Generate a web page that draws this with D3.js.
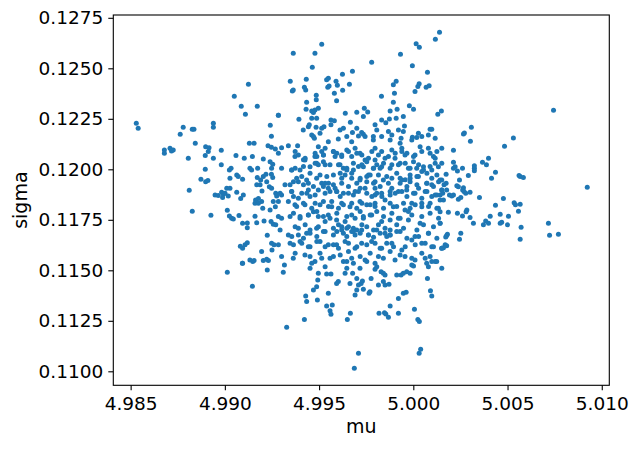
<!DOCTYPE html>
<html>
<head>
<meta charset="utf-8">
<script src="https://cdn.jsdelivr.net/npm/d3@7"></script>
<style>
  body { margin: 0; background: #fff; }
  text { font-family: "DejaVu Sans", sans-serif; }
</style>
</head>
<body>
<div id="chart"></div>
<script>
// values, grouped by the part of the plot they came from
const muTop = [4.98530,4.98540,4.98763,4.98779,4.98827,4.98836,4.98939,4.98939,4.99050,4.99087,4.99109,4.99125,4.99172,4.99241,4.99247,4.99284,
  4.99284,4.99363,4.99478,4.99514,4.99464,4.99347,4.99358,4.99363,4.99432,4.99422,4.99429,4.99434,4.99431,4.99485,4.99485,4.99496,4.99461,4.99470,4.99478,4.99487,
  4.99461,4.99393,4.99416,4.99443,4.99448,4.99484,4.99514,4.99526,4.99505,4.99461,4.99475,4.99540,4.99549,4.99546,4.99553,4.99590,4.99597,4.99581,4.99593,4.99624,
  4.99625,4.99661,4.99677,4.99639,4.99700,4.99740,4.99758,4.99735,4.99779,4.99831,4.99666,4.99629,4.99611,4.99563,4.99581,4.99563,4.99700,4.99709,4.99677,4.99726,
  4.99735,4.99744,4.99797,4.99806,4.99788,4.99832,4.99854,4.99873,4.99877,4.99894,4.99900,4.99894,4.99909,4.99914,4.99909,4.99868,4.99886,4.99921,4.99947,4.99953,
  4.99947,4.99935,4.99979,5.00001,4.99995,4.99932,5.00015,5.00032,5.00024,5.00031,5.00009,5.00068,5.00084,5.00075,5.00117,5.00139,5.00130,5.00149,5.00089,5.00098,
  5.00080,5.00027,4.99995,5.00018,5.00744,5.00308,5.00266,5.00271,5.00531];
const sigmaTop = [0.12228,0.12203,0.12174,0.12208,0.12198,0.12198,0.12228,0.12208,0.12362,0.12312,0.12273,0.12421,0.12312,0.12218,0.12164,0.12268,
  0.12268,0.12574,0.12574,0.12619,0.12505,0.12436,0.12388,0.12393,0.12446,0.12406,0.12393,0.12332,0.12297,0.12367,0.12344,0.12302,0.12289,0.12281,0.12294,0.12253,
  0.12253,0.12248,0.12195,0.12211,0.12220,0.12208,0.12203,0.12211,0.12178,0.12170,0.12154,0.12443,0.12451,0.12406,0.12413,0.12436,0.12416,0.12377,0.12339,0.12471,
  0.12391,0.12421,0.12485,0.12277,0.12282,0.12302,0.12284,0.12261,0.12530,0.12362,0.12233,0.12203,0.12195,0.12244,0.12240,0.12220,0.12203,0.12165,0.12182,0.12182,
  0.12174,0.12162,0.12220,0.12195,0.12162,0.12244,0.12231,0.12249,0.12289,0.12332,0.12377,0.12418,0.12436,0.12297,0.12253,0.12187,0.12170,0.12195,0.12261,0.12215,
  0.12187,0.12154,0.12315,0.12297,0.12513,0.12570,0.12621,0.12604,0.12410,0.12423,0.12385,0.12406,0.12414,0.12480,0.12644,0.12678,0.12273,0.12289,0.12198,0.12198,
  0.12170,0.12179,0.12159,0.12157,0.12292,0.12208,0.12175,0.12180,0.12155];

const muLeft = [4.98843,4.98679,4.98679,4.98709,4.98717,4.98726,4.98806,4.98898,4.98916,4.98912,4.98896,4.98939,4.98981,4.98981,4.99059,4.99103,4.99130,4.99155,
  4.99146,4.99229,4.99247,4.99268,4.99204,4.99240,4.99254,4.99248,4.99133,4.99142,4.99033,4.99024,4.98896,4.98873,4.98898,4.98910,4.99027,4.99063,4.99071,4.99094,
  4.99174,4.99172,4.99204,4.99218,4.99247,4.99254,4.99222,4.99190,4.99169,4.99187,4.99236,4.99248,4.99197,4.99270,4.99275,4.98811,4.98827,4.98926,4.98948,4.98965,
  4.98983,4.98992,4.99001,4.99010,4.99027,4.99018,4.98988,4.99063,4.99084,4.99098,4.99163,4.99178,4.99160,4.99195,4.99178,4.99201,4.99257,4.99268,4.99240,4.99013,
  4.99024,4.99036,4.99045,4.99075,4.99094,4.99119,4.99119,4.99160,4.99169,4.99208,4.99245,4.99257,4.99270,4.99284,4.99225,4.99082,4.99094,4.99107,4.99119,4.99248,
  4.99261,4.99250,4.99195,4.99094,4.99133,4.99148,4.99155,4.99204,4.99222,4.99231,4.99013,4.99093,4.99146,4.99225];
const sigmaLeft = [0.12129,0.12096,0.12079,0.12104,0.12091,0.12096,0.12055,0.12112,0.12107,0.12088,0.12068,0.12055,0.12094,0.12022,0.12068,0.12055,0.12129,0.12129,
  0.12064,0.12116,0.12109,0.12101,0.12051,0.12038,0.12025,0.12005,0.12005,0.11997,0.12005,0.11997,0.12000,0.11951,0.11939,0.11944,0.11956,0.11972,0.11964,0.11951,
  0.12005,0.11959,0.11964,0.11975,0.11975,0.11959,0.11939,0.11947,0.11923,0.11923,0.11914,0.11906,0.11893,0.11881,0.11868,0.11896,0.11792,0.11772,0.11873,0.11870,
  0.11886,0.11876,0.11881,0.11906,0.11906,0.11868,0.11861,0.11886,0.11856,0.11873,0.11848,0.11856,0.11832,0.11840,0.11832,0.11807,0.11840,0.11815,0.11799,0.11797,
  0.11769,0.11758,0.11754,0.11771,0.11733,0.11734,0.11711,0.11767,0.11736,0.11744,0.11741,0.11728,0.11725,0.11766,0.11673,0.11619,0.11609,0.11626,0.11637,0.11634,
  0.11626,0.11601,0.11593,0.11535,0.11551,0.11543,0.11548,0.11548,0.11555,0.11548,0.11490,0.11535,0.11421,0.11501];

const muRight = [5.00303,5.00484,5.00213,5.00151,5.00213,5.00222,5.00213,5.00234,5.00261,5.00324,5.00324,5.00324,5.00367,5.00388,5.00399,5.00436,5.00415,5.00292,
  5.00174,5.00142,5.00163,5.00174,5.00231,5.00239,5.00245,5.00266,5.00269,5.00278,5.00262,5.00301,5.00151,5.00156,5.00142,5.00177,5.00192,5.00204,5.00213,5.00160,
  5.00142,5.00239,5.00252,5.00351,5.00478,5.00436,5.00535,5.00542,5.00567,5.00558,5.00461,5.00505,5.00408,5.00384,5.00399,5.00372,5.00319,5.00301,5.00261,5.00234,
  5.00186,5.00284,5.00280,5.00142,5.00469,5.00461,5.00500,5.00572,5.00923,5.00717,5.00723,5.00770,5.00567,5.00252,5.00245,5.00181,5.00177,5.00172,5.00169,5.00177,
  5.00160,5.00151,5.00142,5.00567,5.00584,5.00561];
const sigmaRight = [0.12139,0.12114,0.12094,0.12030,0.12035,0.12013,0.12005,0.11992,0.12005,0.12018,0.12005,0.11993,0.12035,0.12022,0.12055,0.11985,0.11956,0.11969,
  0.11975,0.11947,0.11923,0.11931,0.11919,0.11914,0.11947,0.11909,0.11890,0.11881,0.11898,0.11886,0.11898,0.11881,0.11873,0.11898,0.11873,0.11868,0.11873,0.11848,
  0.11848,0.11852,0.11860,0.11861,0.11856,0.11822,0.11835,0.11824,0.11827,0.11792,0.11777,0.11767,0.11767,0.11744,0.11733,0.11725,0.11733,0.11762,0.11769,0.11782,
  0.11787,0.11799,0.11790,0.11790,0.11738,0.11733,0.11725,0.11713,0.11911,0.11733,0.11673,0.11678,0.11654,0.11683,0.11654,0.11678,0.11672,0.11665,0.11626,0.11621,
  0.11612,0.11609,0.11733,0.11964,0.11960,0.11969];

const muCore = [4.99470,4.99549,4.99602,4.99647,4.99673,4.99788,4.99832,4.99877,4.99930,4.99992,5.00045,5.00116,4.99301,4.99337,4.99386,4.99284,4.99496,4.99532,
  4.99576,4.99647,4.99691,4.99717,4.99797,4.99832,4.99886,4.99939,4.99956,5.00036,5.00080,5.00151,4.99478,4.99523,4.99585,4.99620,4.99744,4.99797,4.99850,4.99903,
  5.00009,5.00116,4.99425,4.99372,4.99452,4.99487,4.99532,4.99611,4.99647,4.99682,4.99735,4.99788,4.99832,4.99886,4.99930,4.99974,5.00018,5.00054,5.00098,5.00133,
  4.99301,4.99354,4.99399,4.99319,4.99346,4.99390,4.99434,4.99487,4.99532,4.99576,4.99620,4.99673,4.99717,4.99762,4.99797,4.99841,4.99886,4.99939,4.99983,5.00027,
  5.00071,5.00098,5.00151,4.99293,4.99301,4.99354,4.99408,4.99443,4.99496,4.99549,4.99593,4.99629,4.99691,4.99744,4.99797,4.99832,4.99877,4.99921,4.99965,5.00009,
  5.00063,5.00116,5.00151,4.99284,4.99337,4.99372,4.99425,4.99470,4.99523,4.99567,4.99620,4.99664,4.99717,4.99753,4.99797,4.99850,4.99894,4.99956,4.99992,5.00045,
  5.00089,5.00133,4.99301,4.99346,4.99399,4.99443,4.99496,4.99549,4.99593,4.99638,4.99691,4.99735,4.99779,4.99832,4.99877,4.99921,4.99974,5.00036,5.00142,4.99293,
  4.99337,4.99390,4.99434,4.99487,4.99532,4.99576,4.99620,4.99647,4.99682,4.99726,4.99762,4.99806,4.99850,4.99877,4.99930,5.00009,5.00080,4.99284,4.99346,4.99399,
  4.99452,4.99505,4.99549,4.99593,4.99638,4.99691,4.99726,4.99779,4.99832,4.99886,4.99939,4.99992,5.00045,5.00098,5.00151,4.99301,4.99363,4.99425,4.99478,4.99514,
  4.99576,4.99629,4.99673,4.99744,4.99797,4.99841,4.99903,4.99956,5.00009,5.00063,5.00116];
const sigmaCore = [0.12162,0.12137,0.12150,0.12162,0.12137,0.12145,0.12162,0.12145,0.12129,0.12145,0.12162,0.12154,0.12107,0.12117,0.12116,0.12079,0.12112,0.12104,
  0.12088,0.12096,0.12104,0.12079,0.12104,0.12088,0.12096,0.12104,0.12071,0.12112,0.12104,0.12104,0.12063,0.12071,0.12063,0.12063,0.12046,0.12046,0.12055,0.12055,
  0.12071,0.12055,0.12046,0.12063,0.12013,0.12030,0.12022,0.12022,0.12005,0.11997,0.12013,0.12005,0.12013,0.12022,0.12030,0.12005,0.12005,0.12013,0.11997,0.12013,
  0.12005,0.11997,0.11997,0.11923,0.11923,0.11939,0.11947,0.11956,0.11931,0.11923,0.11956,0.11956,0.11947,0.11972,0.11939,0.11947,0.11956,0.11947,0.11956,0.11964,
  0.11931,0.11923,0.11947,0.11881,0.11873,0.11890,0.11881,0.11898,0.11898,0.11906,0.11890,0.11881,0.11890,0.11906,0.11873,0.11881,0.11890,0.11890,0.11898,0.11881,
  0.11890,0.11873,0.11898,0.11840,0.11840,0.11824,0.11824,0.11790,0.11840,0.11815,0.11832,0.11815,0.11840,0.11824,0.11832,0.11848,0.11815,0.11799,0.11832,0.11815,
  0.11832,0.11807,0.11758,0.11766,0.11758,0.11774,0.11766,0.11774,0.11749,0.11741,0.11758,0.11766,0.11774,0.11741,0.11749,0.11758,0.11749,0.11733,0.11733,0.11700,
  0.11675,0.11708,0.11683,0.11708,0.11692,0.11675,0.11716,0.11708,0.11692,0.11700,0.11675,0.11700,0.11683,0.11675,0.11692,0.11667,0.11683,0.11626,0.11634,0.11642,
  0.11617,0.11642,0.11626,0.11626,0.11642,0.11609,0.11634,0.11642,0.11609,0.11634,0.11601,0.11650,0.11634,0.11617,0.11609,0.11568,0.11560,0.11576,0.11543,0.11560,
  0.11568,0.11543,0.11560,0.11551,0.11535,0.11560,0.11551,0.11568,0.11551,0.11560,0.11543];

// closer reading of the densest block (mu 4.9935-5.0014, sigma 0.1155-0.1210)
const muDense = [4.99373,4.99390,4.99417,4.99426,4.99479,4.99488,4.99514,4.99523,4.99576,4.99594,4.99620,4.99656,4.99673,4.99700,4.99727,4.99762,4.99780,4.99815,
  4.99868,4.99904,4.99939,4.99966,5.00001,5.00045,5.00089,5.00107,5.00125,
  4.99355,4.99373,4.99417,4.99479,4.99496,4.99523,4.99558,4.99603,4.99629,4.99647,4.99682,4.99709,4.99727,4.99753,4.99789,4.99806,4.99824,4.99842,4.99877,4.99921,
  4.99957,4.99983,5.00001,5.00028,5.00054,5.00089,5.00116,
  4.99364,4.99381,4.99408,4.99452,4.99505,4.99541,4.99576,4.99612,4.99638,4.99673,4.99718,4.99753,4.99771,4.99815,4.99859,4.99912,4.99930,4.99957,4.99983,5.00019,
  5.00045,5.00072,5.00098,5.00125,
  4.99355,4.99417,4.99443,4.99470,4.99514,4.99523,4.99550,4.99585,4.99620,4.99656,4.99700,4.99718,4.99753,4.99789,4.99797,4.99824,4.99868,4.99886,4.99930,4.99966,
  4.99983,5.00019,5.00028,5.00072,5.00107,5.00134,
  4.99364,4.99390,4.99435,4.99452,4.99479,4.99532,4.99558,4.99594,4.99612,4.99656,4.99682,4.99709,4.99753,4.99780,4.99806,4.99833,4.99877,4.99904,4.99939,4.99966,
  5.00001,5.00045,5.00072,5.00098,5.00125,
  4.99381,4.99417,4.99461,4.99479,4.99505,4.99550,4.99567,4.99603,4.99629,4.99673,4.99700,4.99727,4.99771,4.99797,4.99842,4.99877,4.99912,4.99948,4.99983,5.00010,
  5.00045,5.00081,5.00125,
  4.99364,4.99399,4.99443,4.99488,4.99523,4.99558,4.99594,4.99647,4.99673,4.99718,4.99735,4.99771,4.99806,4.99842,4.99886,4.99930,4.99974,4.99992,5.00045,5.00089,
  5.00134,
  4.99373,4.99426,4.99452,4.99496,4.99532,4.99576,4.99603,4.99620,4.99656,4.99682,4.99700,4.99727,4.99753,4.99789,4.99815,4.99850,4.99877,4.99912,4.99948,5.00019,
  5.00054,5.00107,
  4.99355,4.99390,4.99417,4.99452,4.99488,4.99523,4.99594,4.99629,4.99647,4.99673,4.99691,4.99718,4.99762,4.99789,4.99824,4.99859,4.99877,4.99912,4.99966,5.00028,
  5.00081,5.00125,
  4.99364,4.99408,4.99443,4.99488,4.99532,4.99576,4.99603,4.99656,4.99700,4.99753,4.99797,4.99824,4.99859,4.99895,4.99957,5.00010,5.00063,5.00107,
  4.99373,4.99452,4.99505,4.99558,4.99612,4.99656,4.99718,4.99771,4.99815,4.99877,4.99930,4.99992,5.00045,5.00089];
const sigmaDense = [0.12088,0.12071,0.12047,0.12055,0.12080,0.12063,0.12088,0.12071,0.12088,0.12080,0.12071,0.12088,0.12063,0.12080,0.12071,0.12055,0.12088,0.12071,
  0.12063,0.12080,0.12088,0.12080,0.12063,0.12088,0.12080,0.12063,0.12088,
  0.11997,0.12005,0.12014,0.12030,0.12022,0.12038,0.12022,0.12022,0.12005,0.11997,0.12030,0.12014,0.12022,0.12038,0.12005,0.12022,0.12005,0.12030,0.12005,0.12022,
  0.12030,0.12005,0.12038,0.12022,0.11997,0.12014,0.12030,
  0.11939,0.11956,0.11964,0.11981,0.11972,0.11964,0.11972,0.11981,0.11972,0.11981,0.11956,0.11964,0.11972,0.11972,0.11964,0.11981,0.11956,0.11948,0.11972,0.11964,
  0.11989,0.11981,0.11956,0.11972,
  0.11890,0.11923,0.11931,0.11915,0.11931,0.11915,0.11931,0.11906,0.11931,0.11915,0.11931,0.11906,0.11939,0.11931,0.11906,0.11915,0.11931,0.11906,0.11931,0.11915,
  0.11939,0.11923,0.11906,0.11931,0.11915,0.11939,
  0.11865,0.11857,0.11882,0.11865,0.11873,0.11882,0.11890,0.11890,0.11865,0.11882,0.11873,0.11890,0.11882,0.11865,0.11882,0.11865,0.11873,0.11882,0.11890,0.11865,
  0.11882,0.11857,0.11890,0.11865,0.11873,
  0.11816,0.11832,0.11807,0.11832,0.11824,0.11816,0.11840,0.11807,0.11824,0.11832,0.11807,0.11832,0.11824,0.11816,0.11807,0.11832,0.11816,0.11832,0.11807,0.11824,
  0.11832,0.11816,0.11807,
  0.11783,0.11766,0.11774,0.11791,0.11766,0.11758,0.11783,0.11766,0.11774,0.11791,0.11758,0.11774,0.11791,0.11766,0.11783,0.11758,0.11791,0.11774,0.11766,0.11783,
  0.11758,
  0.11716,0.11725,0.11700,0.11716,0.11741,0.11708,0.11725,0.11700,0.11716,0.11708,0.11700,0.11725,0.11716,0.11700,0.11725,0.11708,0.11700,0.11725,0.11708,0.11700,
  0.11725,0.11716,
  0.11667,0.11675,0.11659,0.11683,0.11667,0.11692,0.11692,0.11683,0.11667,0.11692,0.11675,0.11683,0.11675,0.11664,0.11683,0.11667,0.11675,0.11692,0.11659,0.11667,
  0.11683,0.11659,
  0.11626,0.11634,0.11617,0.11642,0.11617,0.11626,0.11609,0.11634,0.11617,0.11626,0.11634,0.11609,0.11634,0.11617,0.11617,0.11626,0.11634,0.11617,
  0.11585,0.11568,0.11585,0.11560,0.11576,0.11593,0.11568,0.11585,0.11568,0.11593,0.11576,0.11560,0.11585,0.11568];

const muBottom = [4.99316,4.99310,4.99328,4.99422,4.99429,4.99434,4.99470,4.99487,4.99493,4.99496,4.99491,4.99461,4.99452,4.99532,4.99540,4.99563,4.99549,4.99540,
  4.99558,4.99563,4.99570,4.99602,4.99593,4.99638,4.99647,4.99664,4.99650,4.99666,4.99647,4.99678,4.99682,4.99691,4.99700,4.99709,4.99700,4.99717,4.99723,4.99730,
  4.99709,4.99687,4.99735,4.99753,4.99770,4.99765,4.99776,4.99797,4.99806,4.99815,4.99829,4.99841,4.99850,4.99841,4.99850,4.99871,4.99877,4.99818,4.99847,4.99854,
  4.99868,4.99912,4.99935,4.99947,4.99965,4.99983,4.99947,4.99962,4.99921,4.99921,4.99992,5.00001,5.00006,5.00024,5.00032,5.00039,5.00031,5.00071,5.00075,5.00080,
  5.00091,5.00098,5.00098,5.00124,5.00151];
const sigmaBottom = [0.11526,0.11490,0.11218,0.11257,0.11373,0.11345,0.11402,0.11419,0.11452,0.11485,0.11353,0.11535,0.11510,0.11518,0.11482,0.11482,0.11386,0.11323,
  0.11300,0.11282,0.11328,0.11444,0.11435,0.11485,0.11510,0.11435,0.11257,0.11287,0.11543,0.11485,0.11535,0.11378,0.11402,0.11427,0.11460,0.11510,0.11435,0.11447,
  0.11089,0.11015,0.11406,0.11543,0.11394,0.11386,0.11460,0.11505,0.11518,0.11427,0.11493,0.11485,0.11477,0.11444,0.11427,0.11431,0.11323,0.11287,0.11290,0.11284,
  0.11267,0.11477,0.11477,0.11485,0.11493,0.11485,0.11386,0.11391,0.11361,0.11287,0.11526,0.11521,0.11307,0.11257,0.11246,0.11109,0.11089,0.11535,0.11460,0.11518,
  0.11399,0.11373,0.11543,0.11543,0.11510];

const xTicks = [4.985, 4.990, 4.995, 5.000, 5.005, 5.010];
const yTicks = [0.1100, 0.1125, 0.1150, 0.1175, 0.1200, 0.1225, 0.1250, 0.1275];

const mu = [].concat(muTop, muLeft, muRight, muCore, muDense, muBottom);
const sigma = [].concat(sigmaTop, sigmaLeft, sigmaRight, sigmaCore, sigmaDense, sigmaBottom);
const points = mu.map(function (m, i) { return {mu: m, sigma: sigma[i]}; });

const width = 639, height = 449;
const plot = {left: 113.3, right: 609.3, top: 15, bottom: 385.3};

const svg = d3.select('#chart').append('svg')
    .attr('width', width)
    .attr('height', height)
    .style('display', 'block');
svg.append('rect').attr('width', width).attr('height', height).attr('fill', '#fff');

const x = d3.scaleLinear().domain([4.98408, 5.01040]).range([plot.left, plot.right]);
const y = d3.scaleLinear().domain([0.109307, 0.127639]).range([plot.bottom, plot.top]);

svg.append('g')
    .selectAll('circle')
    .data(points)
    .enter().append('circle')
    .attr('cx', function (d) { return x(d.mu); })
    .attr('cy', function (d) { return y(d.sigma); })
    .attr('r', 2.5)
    .attr('fill', '#1f77b4');

const xAxis = svg.append('g')
    .attr('transform', 'translate(0,' + plot.bottom + ')')
    .call(d3.axisBottom(x).tickValues(xTicks).tickFormat(d3.format('.3f')).tickSize(5).tickPadding(5));
const yAxis = svg.append('g')
    .attr('transform', 'translate(' + plot.left + ',0)')
    .call(d3.axisLeft(y).tickValues(yTicks).tickFormat(d3.format('.4f')).tickSize(5).tickPadding(5));

[xAxis, yAxis].forEach(function (a) {
    a.select('.domain').remove();
    a.selectAll('line').attr('stroke', '#000').attr('stroke-width', 1.1);
    a.selectAll('text').attr('fill', '#000').style('font-size', '18.5px').style('font-family', '"DejaVu Sans", sans-serif');
});
xAxis.selectAll('text').attr('dy', '0.78em');

svg.append('rect')
    .attr('x', plot.left).attr('y', plot.top)
    .attr('width', plot.right - plot.left).attr('height', plot.bottom - plot.top)
    .attr('fill', 'none').attr('stroke', '#000').attr('stroke-width', 1.1);

svg.append('text')
    .attr('x', (plot.left + plot.right) / 2)
    .attr('y', 433)
    .attr('text-anchor', 'middle')
    .style('font-size', '19px')
    .text('mu');

svg.append('text')
    .attr('transform', 'translate(27,' + (plot.top + plot.bottom) / 2 + ') rotate(-90)')
    .attr('text-anchor', 'middle')
    .style('font-size', '19px')
    .text('sigma');
</script>
</body>
</html>
